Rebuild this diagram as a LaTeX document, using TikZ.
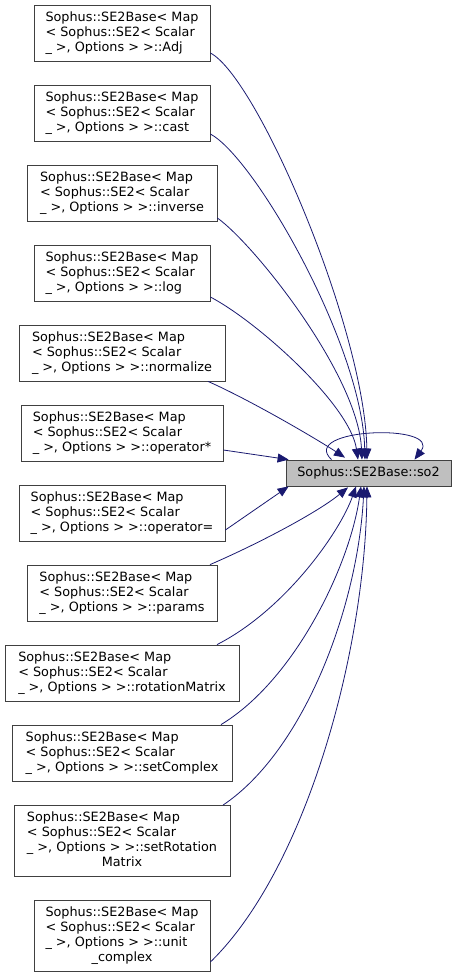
\documentclass[tikz,border=0pt]{standalone}
\usepackage{fontspec}
\setmainfont{DejaVu Sans}
\usetikzlibrary{arrows.meta}
\definecolor{edgeblue}{HTML}{191970}
\definecolor{boxgray}{HTML}{BFBFBF}
\newcommand\dvs{\fontsize{12.8}{15}\selectfont}
\newcommand\mylbl[1]{\begin{tabular}{@{}l@{}}Sophus::SE2Base< Map\\< Sophus::SE2< Scalar\\#1\end{tabular}}
\newcommand\ctr[1]{\multicolumn{1}{@{}c@{}}{#1}}
\tikzset{
  fnbox/.style={draw=black!75, line width=0.8pt, fill=white, inner sep=0pt, font=\dvs},
  target/.style={fnbox, fill=boxgray},
  calledge/.style={draw=edgeblue, line width=0.8pt, -{Triangle[length=11pt,width=9pt]}},
}
\begin{document}
\begin{tikzpicture}[x=1pt,y=-1pt]
\useasboundingbox (0,0) rectangle (456,977);
% caller nodes
\node[fnbox, minimum width=176, minimum height=56] (adj) at (122,33) {\mylbl{\_ >, Options > >::Adj}};
\node[fnbox, minimum width=176, minimum height=56] (cast) at (122,113) {\mylbl{\_ >, Options > >::cast}};
\node[fnbox, minimum width=190, minimum height=56] (inverse) at (122,193) {\mylbl{\_ >, Options > >::inverse}};
\node[fnbox, minimum width=176, minimum height=56] (log) at (122,273) {\mylbl{\_ >, Options > >::log}};
\node[fnbox, minimum width=206, minimum height=56] (normalize) at (122,353) {\mylbl{\_ >, Options > >::normalize}};
\node[fnbox, minimum width=202, minimum height=56] (opmul) at (122,433) {\mylbl{\_ >, Options > >::operator*}};
\node[fnbox, minimum width=206, minimum height=56] (opeq) at (122,513) {\mylbl{\_ >, Options > >::operator=}};
\node[fnbox, minimum width=190, minimum height=56] (params) at (122,593) {\mylbl{\_ >, Options > >::params}};
\node[fnbox, minimum width=234, minimum height=56] (rotmat) at (122,673) {\mylbl{\_ >, Options > >::rotationMatrix}};
\node[fnbox, minimum width=220, minimum height=56] (setcomplex) at (122,753) {\mylbl{\_ >, Options > >::setComplex}};
\node[fnbox, minimum width=216, minimum height=71] (setrotmat) at (122,841) {\mylbl{\_ >, Options > >::setRotation\\\ctr{Matrix}}};
\node[fnbox, minimum width=176, minimum height=71] (unitcomplex) at (122,936) {\mylbl{\_ >, Options > >::unit\\\ctr{\_complex}}};
% target node
\node[target, minimum width=165, minimum height=26] (so2) at (368.5,473) {Sophus::SE2Base::so2};
% edges
\draw[calledge] ([yshift=-20]adj.east) .. controls (258,78) and (365,330) .. ([xshift=-1.5]so2.north);
\draw[calledge] ([yshift=-21]cast.east) .. controls (255,158) and (362,345) .. ([xshift=-3.5]so2.north);
\draw[calledge] ([yshift=-25]inverse.east) .. controls (255,245) and (358,375) .. ([xshift=-6.5]so2.north);
\draw[calledge] ([yshift=-24]log.east) .. controls (258,322) and (350,405) .. ([xshift=-10.5]so2.north);
\draw[calledge] ([xshift=86]normalize.south) .. controls (250,400) and (315,438) .. ([xshift=-23.5,yshift=2]so2.north);
\draw[calledge] ([yshift=-17]opmul.east) -- ([xshift=3]so2.north west);
\draw[calledge] ([yshift=-17]opeq.east) -- ([xshift=3]so2.south west);
\draw[calledge] ([xshift=88]params.north) .. controls (260,543) and (318,512) .. ([xshift=-20.5,yshift=-1]so2.south);
\draw[calledge] ([xshift=95]rotmat.north) .. controls (285,610) and (340,532) .. ([xshift=-12.5]so2.south);
\draw[calledge] ([xshift=99]setcomplex.north) .. controls (295,680) and (350,565) .. ([xshift=-7.5]so2.south);
\draw[calledge] ([xshift=101]setrotmat.north) .. controls (305,750) and (358,605) .. ([xshift=-4.5]so2.south);
\draw[calledge] ([yshift=-26]unitcomplex.east) .. controls (305,870) and (365,655) .. ([xshift=-1.5]so2.south);
% self loop
\draw[calledge] ([xshift=-37]so2.north) .. controls (298,428) and (442,423) .. ([xshift=46]so2.north);
\end{tikzpicture}
\end{document}
